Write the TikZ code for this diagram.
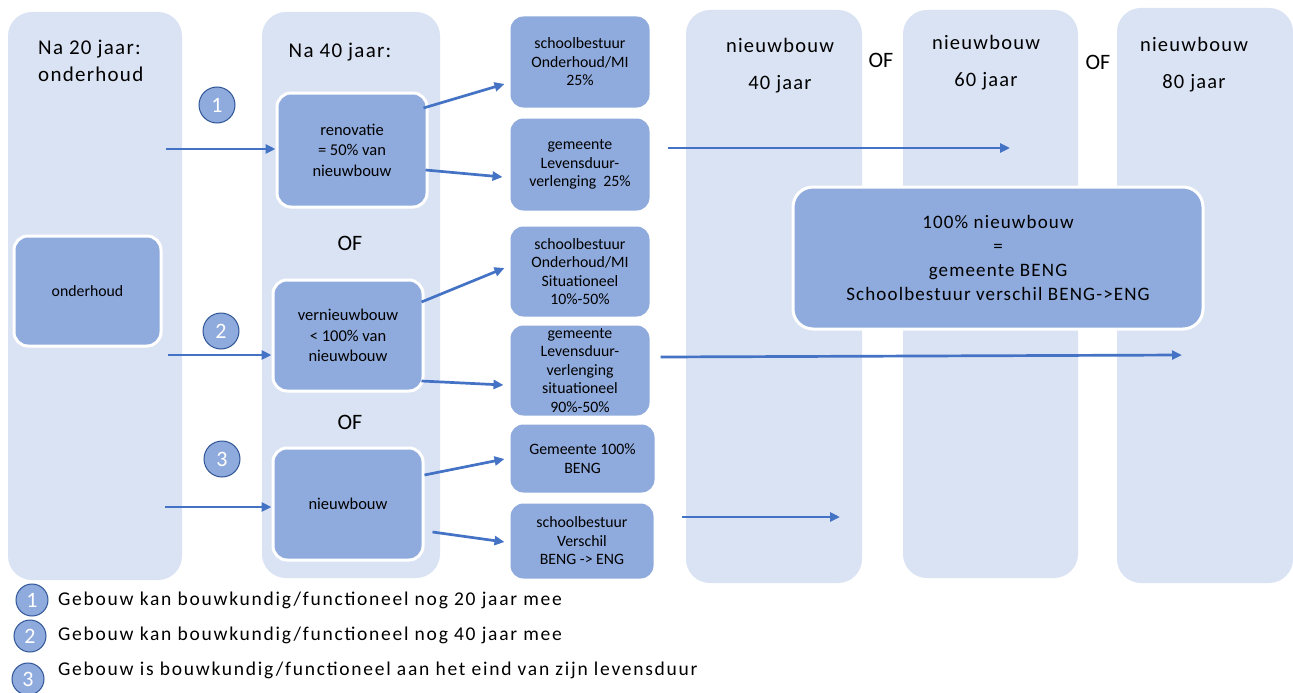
\documentclass[tikz,border=0pt]{standalone}
\usepackage{fontspec}
\setmainfont{Carlito}
\newfontfamily\spc[LetterSpace=6]{Carlito}
\newfontfamily\spcw[LetterSpace=9]{Carlito}
\usetikzlibrary{arrows.meta}
\definecolor{bgc}{HTML}{DAE3F3}
\definecolor{boxc}{HTML}{8FAADC}
\definecolor{arrc}{HTML}{4472C4}
\definecolor{circd}{HTML}{2F5597}
\begin{document}
\begin{tikzpicture}[x=1pt,y=-1pt,
  col/.style={fill=bgc, draw=none, rounded corners=24pt, inner sep=0pt},
  box/.style={fill=boxc, draw=white, line width=3pt, rounded corners=14pt, align=center, inner sep=0pt, font=\fontsize{15.8}{18.5}\selectfont},
  midbox/.style={box, font=\fontsize{16.5}{20.5}\selectfont},
  title/.style={font=\spc\fontsize{21}{27}\selectfont, inner sep=0pt},
  coltitle/.style={font=\spc\fontsize{20.5}{37}\selectfont, align=center, inner sep=0pt},
  oftxt/.style={font=\fontsize{22}{22}\selectfont, inner sep=0pt},
  arr/.style={draw=arrc, line width=2.7pt, -{Triangle[length=10pt,width=9pt]}},
  num/.style={circle, fill=boxc, draw=circd, line width=1pt, minimum size=36pt, inner sep=0pt, text=white, font=\fontsize{22}{22}\selectfont},
  lnum/.style={num, minimum size=32pt},
  legtxt/.style={font=\spcw\fontsize{19.5}{20}\selectfont, anchor=west, inner sep=0pt},
]
\useasboundingbox (0,0) rectangle (1293,693);
\fill[white] (0,0) rectangle (1293,693);

% columns
\node[col, minimum width=174pt, minimum height=568pt] (c1) at (95,296) {};
\node[col, minimum width=178pt, minimum height=566pt] (c2) at (351,295) {};
\node[col, minimum width=176pt, minimum height=573pt] (c3) at (774,296.5) {};
\node[col, minimum width=175pt, minimum height=568pt] (c4) at (990.5,294) {};
\node[col, minimum width=176pt, minimum height=575pt] (c5) at (1205,295.5) {};

% column titles
\node[title, align=left, anchor=north west] (t1) at (38,40) {Na 20 jaar:\\onderhoud};
\node[title] (t2) at (340,52) {Na 40 jaar:};
\node[coltitle] (t3) at (780,65.5) {nieuwbouw\\40 jaar};
\node[coltitle] (t4) at (986,63) {nieuwbouw\\60 jaar};
\node[coltitle] (t5) at (1194,65) {nieuwbouw\\80 jaar};

\node[oftxt] (of1) at (881,60) {OF};
\node[oftxt] (of2) at (1098,62) {OF};
\node[oftxt] (of3) at (350,243) {OF};
\node[oftxt] (of4) at (350,422) {OF};

% boxes
\node[box, minimum width=147pt, minimum height=110pt] (ond) at (87.5,291) {onderhoud};
\node[midbox, minimum width=150pt, minimum height=114pt] (reno) at (352,150) {renovatie\\= 50\% van\\nieuwbouw};
\node[midbox, minimum width=150pt, minimum height=111pt] (vern) at (348,335.5) {vernieuwbouw\\< 100\% van\\nieuwbouw};
\node[midbox, minimum width=150pt, minimum height=112pt] (nb) at (348,504) {nieuwbouw};

\node[box, minimum width=142pt, minimum height=94pt] (sb1) at (580,62) {schoolbestuur\\Onderhoud/MI\\25\%};
\node[box, minimum width=142pt, minimum height=95pt] (gem1) at (580,164.5) {gemeente\\Levensduur-\\verlenging\ \ 25\%};
\node[box, minimum width=142pt, minimum height=93pt] (sb2) at (580,271.5) {schoolbestuur\\Onderhoud/MI\\Situationeel\\10\%-50\%};
\node[box, minimum width=142pt, minimum height=93pt] (gem2) at (580,370.5) {gemeente\\Levensduur-\\verlenging\\situationeel\\90\%-50\%};
\node[box, minimum width=147pt, minimum height=71pt] (gem3) at (582.5,458.5) {Gemeente 100\%\\BENG};
\node[box, minimum width=146pt, minimum height=78pt] (sb3) at (582,541) {schoolbestuur\\Verschil\\BENG -> ENG};

\node[box, minimum width=410pt, minimum height=142pt, rounded corners=20pt, font=\spc\fontsize{19}{24}\selectfont] (big) at (998,258) {100\% nieuwbouw\\=\\gemeente BENG\\Schoolbestuur verschil BENG->ENG};

% number circles
\node[num] (n1) at (217,105) {1};
\node[num] (n2) at (221,331) {2};
\node[num] (n3) at (222,459) {3};

% arrows
\coordinate (s1) at (166,149);
\coordinate (s2) at (168,355);
\coordinate (s3) at (165,507);
\draw[arr] (s1) -- (s1 -| reno.west);
\draw[arr] (s2) -- (s2 -| vern.west);
\draw[arr] (s3) -- (s3 -| nb.west);

\draw[arr] ([shift={(-5,-42)}]reno.east) -- ([shift={(-3,22)}]sb1.west);
\draw[arr] ([shift={(-3,20)}]reno.east) -- ([shift={(-5,12.5)}]gem1.west);
\draw[arr] ([shift={(-3,-33.5)}]vern.east) -- ([shift={(-3,-3.5)}]sb2.west);
\draw[arr] ([shift={(-3,45.5)}]vern.east) -- ([shift={(-4,14.5)}]gem2.west);
\draw[arr] ([shift={(0,-29)}]nb.east) -- ([shift={(-3,0.5)}]gem3.west);
\draw[arr] ([shift={(8,28)}]nb.east) -- ([shift={(-3,1)}]sb3.west);

\coordinate (e1) at (1010,148);
\coordinate (e2) at (1182,355);
\coordinate (e3) at (840,517);
\draw[arr] ([shift={(15,-16.5)}]gem1.east) -- (e1);
\draw[arr] ([shift={(8,-13.5)}]gem2.east) -- (e2);
\draw[arr] ([shift={(25,-24)}]sb3.east) -- (e3);

% legend
\node[lnum] (l1) at (32,600) {1};
\node[lnum] (l2) at (30,636) {2};
\node[lnum] (l3) at (28,679) {3};
\node[legtxt] (lt1) at (58,600) {Gebouw kan bouwkundig/functioneel nog 20 jaar mee};
\node[legtxt] (lt2) at (58,635) {Gebouw kan bouwkundig/functioneel nog 40 jaar mee};
\node[legtxt] (lt3) at (58,670) {Gebouw is bouwkundig/functioneel aan het eind van zijn levensduur};
\end{tikzpicture}
\end{document}
